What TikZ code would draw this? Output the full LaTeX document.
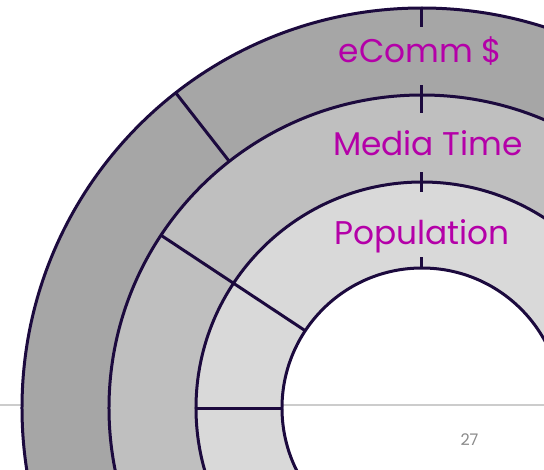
\documentclass[tikz,border=0pt]{standalone}
\usepackage{fontspec}
\setmainfont{Poppins}
\usetikzlibrary{positioning}
\definecolor{ringline}{HTML}{1C0A3E}
\definecolor{outerfill}{HTML}{A6A6A6}
\definecolor{midfill}{HTML}{BFBFBF}
\definecolor{innerfill}{HTML}{D9D9D9}
\definecolor{labelpink}{HTML}{B400A8}
\definecolor{pagegray}{HTML}{8A8A8A}

\begin{document}
\begin{tikzpicture}[x=1pt,y=1pt,
    ring/.style={draw=ringline, line width=3pt},
    ringtext/.style={text=labelpink, anchor=base, inner sep=0pt, font=\fontsize{32.8}{38}\selectfont}]
  \useasboundingbox (-422,-61) rectangle (122,408);
  \clip (-422,-61) rectangle (122,408);

  \draw[line width=1.6pt, gray!40] (-422,3) -- (122,3) ;  %slide rule

  \fill[outerfill, even odd rule] (0,0) circle (400) (0,0) circle (313) ; %eComm ring
  \fill[midfill, even odd rule] (0,0) circle (313) (0,0) circle (226) ;   %media ring
  \fill[innerfill, even odd rule] (0,0) circle (226) (0,0) circle (140) ; %population ring

  \draw[ring] (0,0) circle (400) ;
  \draw[ring] (0,0) circle (313) ;
  \draw[ring] (0,0) circle (226) ;
  \draw[ring] (0,0) circle (140) ;

  \draw[ring] (128:313) -- (128:400) ;   %outer split
  \draw[ring] (146.5:140) -- (146.5:313) ; %middle and inner split
  \draw[ring] (180:140) -- (180:226) ;   %inner split

  \draw[ring] (90:381) -- (90:400) ;  %top ticks
  \draw[ring] (90:295) -- (90:323) ;
  \draw[ring] (90:216) -- (90:236) ;
  \draw[ring] (90:140) -- (90:151) ;

  \node[ringtext] (ecomm) at (-1.5,345) {eComm \$};
  \node[ringtext] (media) at (6,252) {Media Time};
  \node[ringtext] (popul) at (0,163) {Population};

  \node[text=pagegray, anchor=base, font=\fontsize{16}{18}\selectfont] (pagenum) at (47.5,-37) {27};
\end{tikzpicture}
\end{document}
